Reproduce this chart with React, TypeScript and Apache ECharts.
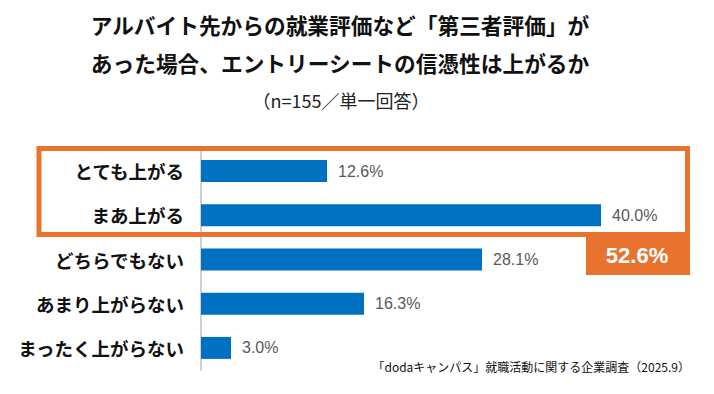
import React, { useEffect, useRef } from "react";
import * as echarts from "echarts";

const categories = ["とても上がる", "まあ上がる", "どちらでもない", "あまり上がらない", "まったく上がらない"];
const values = [12.6, 40.0, 28.1, 16.3, 3.0];
const titleLines = ["アルバイト先からの就業評価など「第三者評価」が", "あった場合、エントリーシートの信憑性は上がるか"];
const subtitle = "（n=155／単一回答）";
const totalLabel = "52.6%";
const source = "「dodaキャンパス」就職活動に関する企業調査（2025.9）";

const FONT = "'Noto Sans CJK JP', 'Noto Sans', sans-serif";
const ORANGE = "#E8732F";

export default function App() {
  const ref = useRef<HTMLDivElement>(null);
  useEffect(() => {
    document.body.style.margin = "0";
    const chart = echarts.init(ref.current!, null, { renderer: "svg" });
    chart.setOption({
      animation: false,
      backgroundColor: "#ffffff",
      textStyle: { fontFamily: FONT },
      title: [
        {
          text: titleLines.join("\n"),
          left: 335,
          top: 0,
          textAlign: "center",
          textStyle: { fontSize: 21.7, fontWeight: "bold", color: "#111", lineHeight: 38, fontFamily: FONT },
        },
        {
          text: subtitle,
          left: 336,
          top: 86,
          textAlign: "center",
          textStyle: { fontSize: 18, fontWeight: "normal", color: "#222", fontFamily: FONT },
        },
      ],
      grid: { left: 201, right: 13, top: 149, bottom: 24, containLabel: false },
      xAxis: {
        type: "value",
        min: 0,
        max: 50,
        show: false,
      },
      yAxis: {
        type: "category",
        data: categories,
        inverse: true,
        axisLine: { show: true, lineStyle: { color: "#d0d0d0", width: 2 } },
        axisTick: { show: false },
        axisLabel: { margin: 17, fontSize: 18.5, fontWeight: "bold", color: "#111", fontFamily: FONT },
      },
      series: [
        {
          type: "bar",
          data: values,
          barWidth: 22,
          itemStyle: { color: "#0070C0" },
          label: {
            show: true,
            position: "right",
            distance: 11,
            formatter: (p: any) => p.value.toFixed(1) + "%",
            fontSize: 16,
            color: "#595959",
            fontFamily: "'Liberation Sans', Arial, sans-serif",
          },
        },
      ],
      graphic: [
        {
          type: "rect",
          shape: { x: 39, y: 148.5, width: 648.5, height: 86 },
          style: { fill: "none", stroke: ORANGE, lineWidth: 5 },
          z: 10,
        },
        {
          type: "rect",
          shape: { x: 586, y: 232, width: 104, height: 43 },
          style: { fill: ORANGE },
          z: 10,
        },
        {
          type: "text",
          x: 637,
          y: 255,
          style: {
            text: totalLabel,
            fill: "#ffffff",
            font: "bold 22px 'Liberation Sans', Arial, sans-serif",
            textAlign: "center",
            textVerticalAlign: "middle",
          },
          z: 11,
        },
        {
          type: "text",
          x: 690,
          y: 366,
          style: {
            text: source,
            fill: "#111",
            font: "12px 'Noto Sans CJK JP', sans-serif",
            textAlign: "right",
            textVerticalAlign: "middle",
          },
          z: 11,
        },
      ],
    });
    return () => chart.dispose();
  }, []);
  return <div ref={ref} style={{ width: 714, height: 394 }} />;
}
